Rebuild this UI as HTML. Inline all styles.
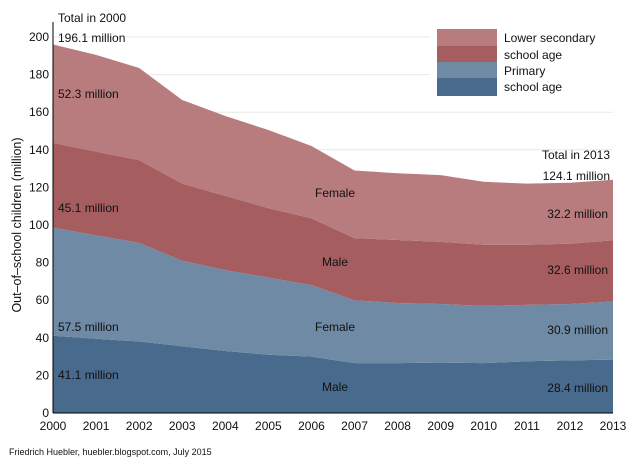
<!DOCTYPE html>
<html><head><meta charset="utf-8"><style>
body{margin:0;background:#fff}
svg text{font-family:"Liberation Sans",sans-serif;fill:#111}
</style></head><body>
<svg id="chart" width="640" height="466" viewBox="0 0 640 466">
<g id="grid"></g>
<g id="areas"></g>
<g id="labels"></g>
<line x1="53" y1="22" x2="53" y2="413" stroke="#000" stroke-width="1"/>
<line x1="53" y1="413" x2="613" y2="413" stroke="#000" stroke-width="1"/>
<text x="21" y="225" font-size="12.5" text-anchor="middle" transform="rotate(-90 21 225)">Out–of–school children (million)</text>
<g>
<rect x="437" y="29" width="60" height="17" fill="#b87b7e"/>
<rect x="437" y="46" width="60" height="16" fill="#a55d60"/>
<rect x="437" y="62" width="60" height="16" fill="#6f8aa5"/>
<rect x="437" y="78" width="60" height="18" fill="#486a8c"/>
<text x="504" y="42" font-size="12">Lower secondary</text>
<text x="504" y="59" font-size="12">school age</text>
<text x="504" y="75" font-size="12">Primary</text>
<text x="504" y="91" font-size="12">school age</text>
</g>
<text x="9" y="455" font-size="9">Friedrich Huebler, huebler.blogspot.com, July 2015</text>
</svg>
<script>
const years=[2000,2001,2002,2003,2004,2005,2006,2007,2008,2009,2010,2011,2012,2013];
const primaryMale=[41.1,39.5,38,35.5,33,31,30,26.5,26.5,26.8,26.5,27.5,28,28.4];
const primaryFemale=[57.5,55,52.5,45.5,43,41,38,33.5,32,31.2,30.5,30,30,30.9];
const lowerMale=[45.1,44.5,44,41,39.5,37,35.5,33,33.5,33,32.5,32,32,32.6];
const lowerFemale=[52.3,51.5,49,44.5,42.5,41.5,38.5,36,35.5,35.5,33.5,32.5,32.5,32.2];
const yTicks=[0,20,40,60,80,100,120,140,160,180,200];
const totals=["196.1","124.1"];
const NS="http://www.w3.org/2000/svg";
const X=y=>53+(y-2000)*(560/13);
const Y=v=>413-v*1.88;
function mk(tag,attrs,parent,text){const e=document.createElementNS(NS,tag);for(const k in attrs)e.setAttribute(k,attrs[k]);if(text!==undefined)e.textContent=text;parent.appendChild(e);return e;}
const grid=document.getElementById('grid'),areas=document.getElementById('areas'),labels=document.getElementById('labels');
yTicks.forEach(t=>{if(t>0){const g=mk('line',{x1:53,x2:t>=180?430:613,y1:Y(t),y2:Y(t),stroke:'#e8e8e8','stroke-width':1},grid);

}
const tl=mk('text',{x:49,y:Y(t)+4,'text-anchor':'end','font-size':12},labels,t);

});
years.forEach(yr=>{const tl=mk('text',{x:X(yr),y:430,'text-anchor':'middle','font-size':12},labels,yr);

});
const series=[[primaryMale,'#486a8c','area-primary-male'],[primaryFemale,'#6f8aa5','area-primary-female'],[lowerMale,'#a55d60','area-lower-male'],[lowerFemale,'#b87b7e','area-lower-female']];
let base=years.map(()=>0);
series.forEach(([vals,col,name])=>{const top=base.map((b,i)=>b+vals[i]);
let d='M'+years.map((y,i)=>X(y)+','+Y(top[i])).join('L');
for(let i=years.length-1;i>=0;i--)d+='L'+X(years[i])+','+Y(base[i]);
const p=mk('path',{d:d+'Z',fill:col},areas);


base=top;});
const n=years.length-1;
const tx=[[58,22,'start','Total in 2000'],[58,42,'start',totals[0]+' million'],[610,159,'end','Total in 2013'],[610,180,'end',totals[1]+' million'],
[58,98,'start',lowerFemale[0]+' million'],[58,212,'start',lowerMale[0]+' million'],[58,331,'start',primaryFemale[0]+' million'],[58,379,'start',primaryMale[0]+' million'],
[608,218,'end',lowerFemale[n]+' million'],[608,274,'end',lowerMale[n]+' million'],[608,334,'end',primaryFemale[n]+' million'],[608,392,'end',primaryMale[n]+' million'],
[335,197,'middle','Female'],[335,266,'middle','Male'],[335,331,'middle','Female'],[335,391,'middle','Male']];
tx.forEach(([x,y,a,s])=>{const t=mk('text',{x:x,y:y,'text-anchor':a,'font-size':12},labels,s);

});
</script>
</body></html>
